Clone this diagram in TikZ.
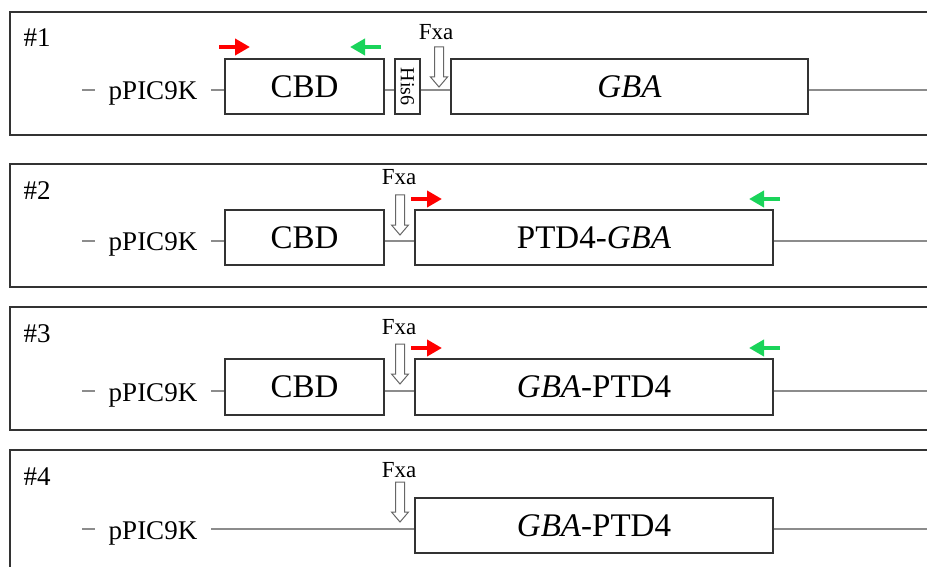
\documentclass[tikz,border=0pt]{standalone}
\usepackage{fontspec}
\setmainfont{Liberation Serif}
\usetikzlibrary{arrows.meta}
\definecolor{fwdred}{RGB}{255,0,0}
\definecolor{revgreen}{RGB}{26,212,90}
\begin{document}
\begin{tikzpicture}[x=1pt,y=-1pt,
  frame/.style={draw=black!80, line width=1.4pt},
  gene/.style={draw=black!80, line width=1.3pt, fill=white, inner sep=0pt, minimum height=55pt, font=\fontsize{33}{37}\selectfont},
  tag/.style={draw=black!80, line width=1.3pt, fill=white, inner sep=0pt, minimum height=55pt, minimum width=25pt, font=\fontsize{20}{23}\selectfont},
  conn/.style={draw=black!45, line width=1.5pt},
  lab/.style={inner sep=0pt, anchor=base, font=\fontsize{27}{31}\selectfont},
  num/.style={inner sep=0pt, anchor=base, font=\fontsize{27}{31}\selectfont},
  fxalab/.style={inner sep=0pt, anchor=base, font=\fontsize{23}{26}\selectfont},
  fwd/.style={draw=fwdred, line width=4pt, -{Triangle[length=15pt,width=16pt]}},
  rev/.style={draw=revgreen, line width=4pt, -{Triangle[length=15pt,width=16pt]}},
  fxa/.pic={\draw[draw=black!60, line width=1pt, fill=white, line join=miter]
     (0,0) -- (-8.5,-10) -- (-4.5,-10) -- (-4.5,-40) -- (4.5,-40) -- (4.5,-10) -- (8.5,-10) -- cycle;}
]
\useasboundingbox (0,0) rectangle (927,567);
\clip (0,0) rectangle (927,567);

% ---------- Panel 1 ----------
\draw[frame] (10,12) rectangle (960,135);
\node[num] (n1) at (37,47) {\#1};
\coordinate (l1) at (0,90);
\coordinate (d1a) at (82,90); \coordinate (d1b) at (95,90);
\node[lab] (p1) at (153,100) {pPIC9K};
\coordinate (s1) at (211,90);
\coordinate (e1) at (940,90);
\node[gene, minimum width=159pt] (cbd1) at (304.5,86.5) {CBD};
\node[tag] (his1) at (407.5,86.5) {\rotatebox{-90}{His6}};
\node[gene, minimum width=357pt] (gba1) at (629.5,86.5) {\textit{GBA}};
\draw[conn] (d1a) -- (d1b);
\draw[conn] (s1) -- (cbd1.west |- l1);
\draw[conn] (cbd1.east |- l1) -- (his1.west |- l1);
\draw[conn] (his1.east |- l1) -- (gba1.west |- l1);
\draw[conn] (gba1.east |- l1) -- (e1);
\node[fxalab] (f1) at (436,40) {Fxa};
\pic at (439,87) {fxa};
\coordinate (r1a) at (219,47); \coordinate (r1b) at (250,47);
\coordinate (g1a) at (381,47); \coordinate (g1b) at (350,47);
\draw[fwd] (r1a) -- (r1b);
\draw[rev] (g1a) -- (g1b);

% ---------- Panel 2 ----------
\draw[frame] (10,164) rectangle (960,287);
\node[num] (n2) at (37,200) {\#2};
\coordinate (l2) at (0,241);
\coordinate (d2a) at (82,241); \coordinate (d2b) at (95,241);
\node[lab] (p2) at (153,251) {pPIC9K};
\coordinate (s2) at (211,241);
\coordinate (e2) at (940,241);
\node[gene, minimum width=159pt] (cbd2) at (304.5,237.5) {CBD};
\node[gene, minimum width=358pt] (gba2) at (594,237.5) {PTD4-\textit{GBA}};
\draw[conn] (d2a) -- (d2b);
\draw[conn] (s2) -- (cbd2.west |- l2);
\draw[conn] (cbd2.east |- l2) -- (gba2.west |- l2);
\draw[conn] (gba2.east |- l2) -- (e2);
\node[fxalab] (f2) at (399,185) {Fxa};
\pic at (400,235) {fxa};
\coordinate (r2a) at (411,199); \coordinate (r2b) at (442,199);
\coordinate (g2a) at (780,199); \coordinate (g2b) at (749,199);
\draw[fwd] (r2a) -- (r2b);
\draw[rev] (g2a) -- (g2b);

% ---------- Panel 3 ----------
\draw[frame] (10,307) rectangle (960,430);
\node[num] (n3) at (37,342) {\#3};
\coordinate (l3) at (0,391);
\coordinate (d3a) at (82,391); \coordinate (d3b) at (95,391);
\node[lab] (p3) at (153,401) {pPIC9K};
\coordinate (s3) at (211,391);
\coordinate (e3) at (940,391);
\node[gene, minimum width=159pt, minimum height=56pt] (cbd3) at (304.5,387) {CBD};
\node[gene, minimum width=358pt, minimum height=56pt] (gba3) at (594,387) {\textit{GBA}-PTD4};
\draw[conn] (d3a) -- (d3b);
\draw[conn] (s3) -- (cbd3.west |- l3);
\draw[conn] (cbd3.east |- l3) -- (gba3.west |- l3);
\draw[conn] (gba3.east |- l3) -- (e3);
\node[fxalab] (f3) at (399,334) {Fxa};
\pic at (400,384) {fxa};
\coordinate (r3a) at (411,348); \coordinate (r3b) at (442,348);
\coordinate (g3a) at (780,348); \coordinate (g3b) at (749,348);
\draw[fwd] (r3a) -- (r3b);
\draw[rev] (g3a) -- (g3b);

% ---------- Panel 4 ----------
\draw[frame] (10,450) rectangle (960,620);
\node[num] (n4) at (37,485) {\#4};
\coordinate (l4) at (0,529);
\coordinate (d4a) at (82,529); \coordinate (d4b) at (95,529);
\node[lab] (p4) at (153,539) {pPIC9K};
\coordinate (s4) at (211,529);
\coordinate (e4) at (940,529);
\node[gene, minimum width=358pt] (gba4) at (594,525.5) {\textit{GBA}-PTD4};
\draw[conn] (d4a) -- (d4b);
\draw[conn] (s4) -- (gba4.west |- l4);
\draw[conn] (gba4.east |- l4) -- (e4);
\node[fxalab] (f4) at (399,477) {Fxa};
\pic at (400,522) {fxa};
\end{tikzpicture}
\end{document}
